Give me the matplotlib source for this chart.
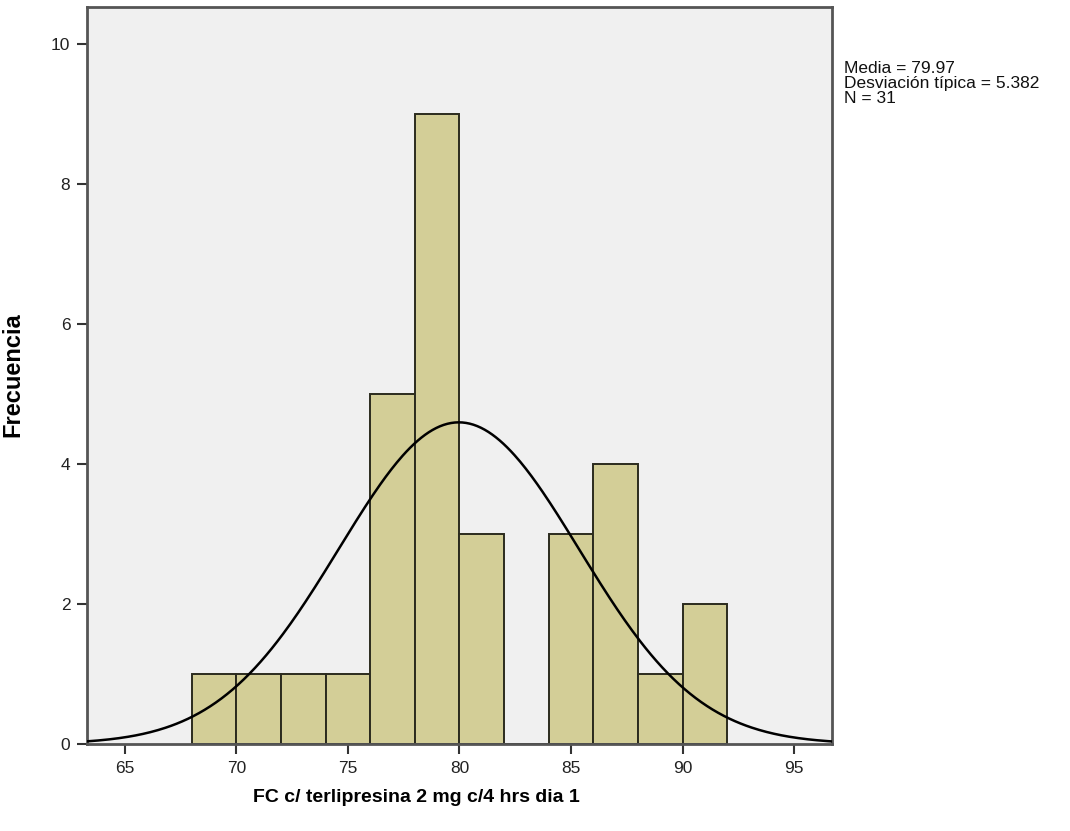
import numpy as np
import matplotlib
matplotlib.use("Agg")
import matplotlib.pyplot as plt

# histogram data
bin_edges = [68, 70, 72, 74, 76, 78, 80, 82, 84, 86, 88, 90, 92]
counts = [1, 1, 1, 1, 5, 9, 3, 0, 3, 4, 1, 2]
media = 79.97
desv = 5.382
n = 31
x_ticks = [65, 70, 75, 80, 85, 90, 95]
y_ticks = [0, 2, 4, 6, 8, 10]

plt.rcParams['font.family'] = ['Liberation Sans', 'DejaVu Sans']

fig = plt.figure(figsize=(10.7, 8.31), dpi=100)
ax = fig.add_axes([87/1070, 1 - 744/831, (832 - 87)/1070, (744 - 7)/831])
ax.set_facecolor('#f0f0f0')

lefts = np.array(bin_edges[:-1])
widths = np.diff(bin_edges)
ax.bar(lefts, counts, width=widths, align='edge', color='#d3ce97',
       edgecolor='#2b2b1e', linewidth=1.4, zorder=2)

# normal curve scaled to counts
bw = widths[0]
xs = np.linspace(63.3, 96.7, 400)
ys = n * bw / (desv * np.sqrt(2 * np.pi)) * np.exp(-0.5 * ((xs - media) / desv) ** 2)
ax.plot(xs, ys, color='black', linewidth=1.8, zorder=3)

ax.set_xlim(63.3, 96.7)
ax.set_ylim(0, 10.53)
ax.set_xticks(x_ticks)
ax.set_yticks(y_ticks)
ax.tick_params(axis='both', direction='out', length=7, width=1.5, color='#333333',
               labelsize=12.5, labelcolor='#222222', pad=5)
for s in ax.spines.values():
    s.set_color('#555555')
    s.set_linewidth(2)

ax.set_xlabel('FC c/ terlipresina 2 mg c/4 hrs dia 1', fontsize=14, fontweight='bold')
ax.xaxis.set_label_coords((416 - 87) / 745, -(789 - 744) / 737, transform=ax.transAxes)
ax.set_ylabel('Frecuencia', fontsize=17, fontweight='bold')
ax.yaxis.set_label_coords(-(87 - 24) / 745, (744 - 375) / 737, transform=ax.transAxes)

fig.text(844/1070, 1 - 61/831,
         'Media = %.2f\nDesviación típica = %.3f\nN = %d' % (media, desv, n),
         fontsize=12.5, va='top', ha='left', linespacing=1.0, color='#111111')

fig.savefig('out.png', dpi=100)
